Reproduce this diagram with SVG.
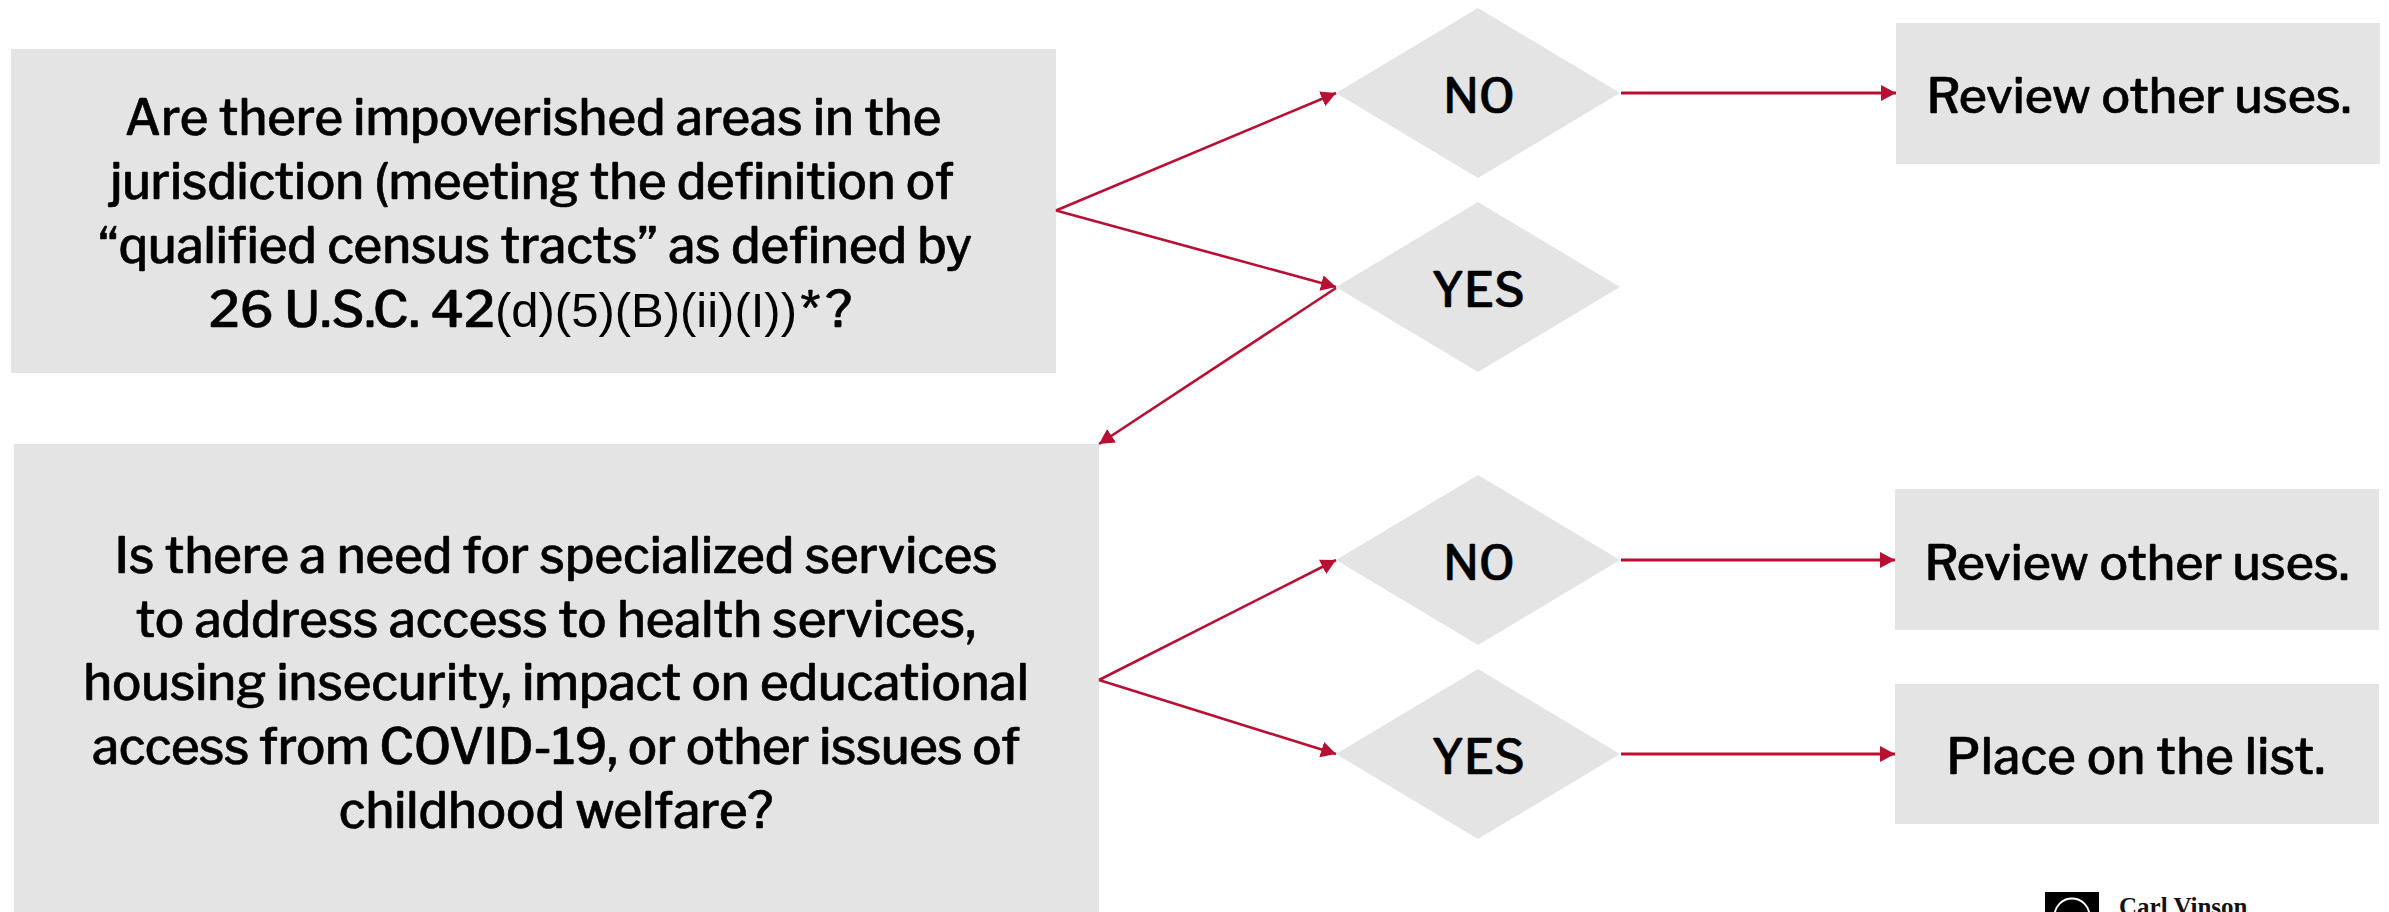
<svg xmlns="http://www.w3.org/2000/svg" width="2389" height="912" viewBox="0 0 2389 912">
<style>
.b{fill:#e4e4e4}
.t{font-family:"Libre Franklin","Liberation Sans",Arial,sans-serif;font-size:49px;font-weight:500;fill:#000;stroke:#000;stroke-width:.6px;text-anchor:middle}
.m{font-size:47px}
.r{font-size:48.300px}
.n{font-size:50.500px}
.p{font-family:"Liberation Sans",Arial,sans-serif;font-size:49px;font-weight:400;stroke:none}
.c{fill:none;stroke:#b90f32;stroke-width:2.6}
.h{stroke-width:3}
</style>
<defs><marker id="a" markerUnits="userSpaceOnUse" markerWidth="16" markerHeight="16" refX="15" refY="8" orient="auto"><path d="M0 0L15 8L0 16z" fill="#b90f32"/></marker></defs>
<rect width="2389" height="912" fill="#fff"/>
<g id="q1"><rect class="b" x="11" y="49" width="1045" height="324"/>
<text class="t" x="533" y="135">Are there impoverished areas in the</text>
<text class="t" x="532" y="199" letter-spacing="-.1">jurisdiction (meeting the definition of</text>
<text class="t" x="535" y="263">“qualified census tracts” as defined by</text>
<text class="t n" x="533" y="327">26 U.S.C. 42<tspan class="p">(d)(5)(B)(ii)(I))</tspan><tspan dx="3" letter-spacing="5">*?</tspan></text></g>
<g id="q2"><rect class="b" x="14" y="444" width="1085" height="468"/>
<text class="t" x="556" y="573">Is there a need for specialized services</text>
<text class="t" x="556" y="637">to address access to health services,</text>
<text class="t" x="556" y="700">housing insecurity, impact on educational</text>
<text class="t" x="556" y="764" letter-spacing="-.35">access from COVID-19, or other issues of</text>
<text class="t" x="556" y="828">childhood welfare?</text></g>
<g id="d1"><path class="b" d="M1336 93L1478 8L1620 93L1478 178z"/><text class="t m" x="1479" y="113">NO</text></g>
<g id="d2"><path class="b" d="M1336 287L1478 202L1620 287L1478 372z"/><text class="t m" x="1478" y="307">YES</text></g>
<g id="d3"><path class="b" d="M1336 560L1478 475L1620 560L1478 645z"/><text class="t m" x="1479" y="580">NO</text></g>
<g id="d4"><path class="b" d="M1336 754L1478 669L1620 754L1478 839z"/><text class="t m" x="1478" y="774">YES</text></g>
<g id="r1"><rect class="b" x="1896" y="23" width="484" height="141"/><text class="t r" x="2139" y="113">Review other uses.</text></g>
<g id="r2"><rect class="b" x="1895" y="489" width="484" height="141"/><text class="t r" x="2137" y="580">Review other uses.</text></g>
<g id="r3"><rect class="b" x="1895" y="684" width="484" height="140"/><text class="t" x="2136" y="774" letter-spacing=".3">Place on the list.</text></g>
<g id="connectors">
<path class="c" marker-end="url(#a)" d="M1056 210.500L1336 93"/>
<path class="c" marker-end="url(#a)" d="M1056 210.500L1336 287"/>
<path class="c" marker-end="url(#a)" d="M1336 288L1099 444"/>
<path class="c h" marker-end="url(#a)" d="M1621 93L1896 93"/>
<path class="c" marker-end="url(#a)" d="M1099 680L1336 560"/>
<path class="c" marker-end="url(#a)" d="M1099 680L1336 754"/>
<path class="c h" marker-end="url(#a)" d="M1621 560L1895 560"/>
<path class="c h" marker-end="url(#a)" d="M1621 754L1895 754"/>
</g>
<g id="logo"><rect x="2045" y="892" width="54" height="20" fill="#000"/><circle cx="2072" cy="916" r="17.500" fill="none" stroke="#fff" stroke-width="2"/>
<text x="2119" y="915" font-family="'Liberation Serif',serif" font-weight="700" font-size="25" fill="#111">Carl Vinson</text></g>
</svg>
